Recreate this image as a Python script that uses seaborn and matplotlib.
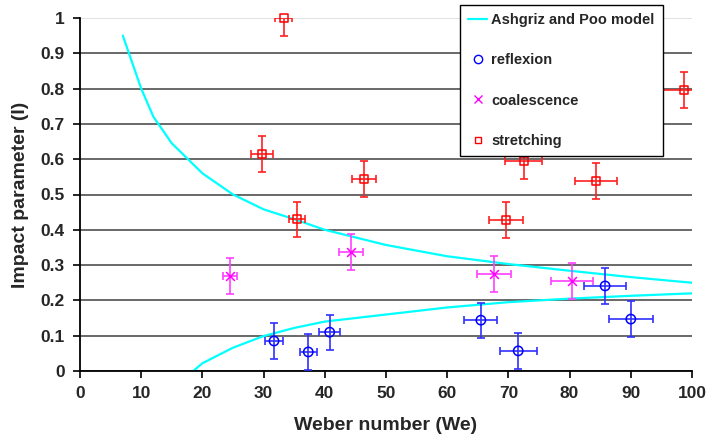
import numpy as np
import pandas as pd
import seaborn as sns
import matplotlib.pyplot as plt
from matplotlib.ticker import FuncFormatter
from matplotlib.lines import Line2D

# Ashgriz and Poo model, two branches
model_up_we = [7, 10, 12, 15, 20, 25, 30, 35, 40, 50, 60, 70, 80, 90, 100]
model_up_i = [0.95, 0.80, 0.72, 0.645, 0.56, 0.50, 0.458, 0.43, 0.40, 0.357, 0.325, 0.303, 0.284, 0.266, 0.25]
model_lo_we = [18.5, 20, 25, 30, 35, 40, 50, 60, 70, 80, 90, 100]
model_lo_i = [0.0, 0.022, 0.066, 0.099, 0.122, 0.14, 0.16, 0.18, 0.195, 0.205, 0.213, 0.22]

# reflexion
refl_we = [31.7, 37.3, 40.8, 65.5, 71.6, 85.8, 90.0]
refl_i = [0.085, 0.054, 0.110, 0.144, 0.057, 0.241, 0.147]
refl_xerr = [1.4, 1.4, 1.7, 2.7, 3.0, 3.4, 3.6]

# coalescence
coal_we = [24.5, 44.3, 67.6, 80.4]
coal_i = [0.269, 0.337, 0.275, 0.255]
coal_xerr = [1.2, 2.0, 2.8, 3.4]

# stretching
str_we = [33.3, 29.7, 35.5, 46.4, 69.6, 72.5, 84.3, 98.7]
str_i = [1.0, 0.615, 0.43, 0.544, 0.428, 0.595, 0.538, 0.796]
str_xerr = [1.4, 1.8, 1.3, 2.0, 2.8, 3.0, 3.4, 3.5]

i_err = 0.05

sns.set_style('ticks')
plt.rcParams['font.family'] = ['Liberation Sans', 'DejaVu Sans']
plt.rcParams['font.weight'] = 'bold'

fig = plt.figure(figsize=(7.08, 4.43), dpi=100)
ax = fig.add_axes([80 / 708, 1 - 371 / 443, 612 / 708, 353 / 443])

up = pd.DataFrame({'We': model_up_we, 'I': model_up_i})
lo = pd.DataFrame({'We': model_lo_we, 'I': model_lo_i})
sns.lineplot(data=up, x='We', y='I', color='#00ffff', lw=1.6, sort=False, estimator=None, ax=ax)
sns.lineplot(data=lo, x='We', y='I', color='#00ffff', lw=1.6, sort=False, estimator=None, ax=ax)

# error bars
ax.errorbar(refl_we, refl_i, xerr=refl_xerr, yerr=i_err, fmt='none', ecolor='#3030ff',
            elinewidth=1.2, capsize=3, capthick=1.2, zorder=3)
ax.errorbar(coal_we, coal_i, xerr=coal_xerr, yerr=i_err, fmt='none', ecolor='#ff40ff',
            elinewidth=1.2, capsize=3, capthick=1.2, zorder=3)
ax.errorbar(str_we, str_i, xerr=str_xerr, yerr=i_err, fmt='none', ecolor='#ff2020',
            elinewidth=1.2, capsize=3, capthick=1.2, zorder=3)

# markers
sns.scatterplot(x=refl_we, y=refl_i, marker='o', s=45, facecolors='none', edgecolor='#0000ff',
                linewidth=1.1, ax=ax, zorder=4, clip_on=False)
sns.scatterplot(x=coal_we, y=coal_i, marker='x', s=40, color='#ff00ff', linewidth=1.1, ax=ax,
                zorder=4, clip_on=False)
sns.scatterplot(x=str_we, y=str_i, marker='s', s=35, facecolors='none', edgecolor='#ff0000',
                linewidth=1.1, ax=ax, zorder=4, clip_on=False)

ax.set_xlim(0, 100)
ax.set_ylim(0, 1)
ax.set_xticks(np.arange(0, 101, 10))
ax.set_yticks(np.arange(0, 1.01, 0.1))
ax.yaxis.set_major_formatter(FuncFormatter(lambda v, p: '%g' % round(v, 1)))
ax.tick_params(axis='both', labelsize=12.5, direction='out', length=5, width=1.2, color='black', pad=6)
for lab in ax.get_xticklabels() + ax.get_yticklabels():
    lab.set_fontweight('bold')

ax.grid(axis='y', color='#404040', lw=1.1)
ax.get_ygridlines()[-1].set_color('#d8d8d8')
ax.set_axisbelow(True)
sns.despine(ax=ax, top=True, right=True)
ax.spines['left'].set_linewidth(1.3)
ax.spines['bottom'].set_linewidth(1.3)
ax.spines['left'].set_color('black')
ax.spines['bottom'].set_color('black')

ax.set_xlabel('Weber number (We)', fontsize=14, fontweight='bold', labelpad=11)
ax.set_ylabel('Impact parameter (I)', fontsize=14, fontweight='bold', labelpad=8)

handles = [
    Line2D([], [], color='#00ffff', lw=1.6),
    Line2D([], [], ls='none', marker='o', ms=6, mfc='none', mec='#0000ff'),
    Line2D([], [], ls='none', marker='x', ms=6, color='#ff00ff'),
    Line2D([], [], ls='none', marker='s', ms=5, mfc='none', mec='#ff0000'),
]
labels = ['Ashgriz and Poo model', 'reflexion', 'coalescence', 'stretching']
leg = ax.legend(handles, labels, loc='upper left', bbox_to_anchor=(460 / 708, 1 - 5 / 443),
                bbox_transform=fig.transFigure, frameon=True, fancybox=False, framealpha=1,
                edgecolor='black', labelspacing=1.8, handlelength=1.3, borderaxespad=0,
                handletextpad=0.3, borderpad=0.55, prop={'weight': 'bold', 'size': 10.5})
leg.get_frame().set_linewidth(1.0)
leg.set_zorder(10)

fig.savefig('out.png', dpi=100)
